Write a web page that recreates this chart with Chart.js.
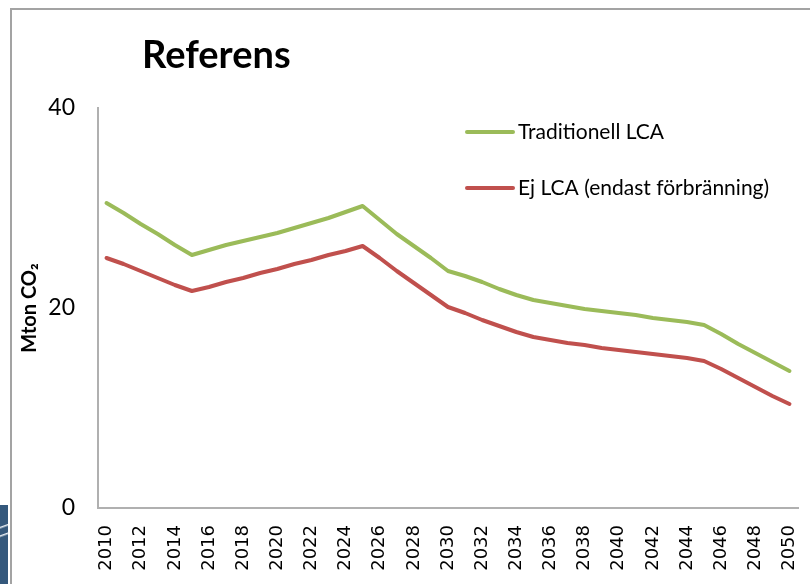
<!DOCTYPE html>
<html lang="sv">
<head>
    <meta charset="UTF-8">
    <title>Referens</title>
    <style>
        html, body { margin: 0; padding: 0; background: #fff; }
        #wrap { position: relative; width: 810px; height: 584px; overflow: hidden; }
        #frame { position: absolute; left: 10px; top: 8px; width: 900px; height: 700px;
                 border-left: 2px solid #a3a3a3; border-top: 2px solid #a3a3a3; }
        #logo { position: absolute; left: 0; top: 505px; width: 8px; height: 79px;
                background: linear-gradient(160deg, #34587c 0, #34587c 20px, #e8eef4 21px, #34587c 23px, #34587c 28px, #e8eef4 29px, #34587c 31px, #34587c 100%); }
        canvas { position: absolute; left: 0; top: 0; }
    </style>
</head>
<body>
    <div id="wrap">
        <div id="frame"></div>
        <div id="logo"></div>
        <canvas id="myChart" width="810" height="584"></canvas>
    </div>

    <script src="https://cdn.jsdelivr.net/npm/chart.js"></script>

    <script>
        // År 2010-2050 (etiketter visas vartannat år)
        const years = [];
        for (let y = 2010; y <= 2050; y++) years.push(String(y));

        // Mton CO2
        const traditionellLCA = [
            30.5, 29.5, 28.4, 27.4, 26.3, 25.3, 25.8, 26.3, 26.7, 27.1,
            27.5, 28.0, 28.5, 29.0, 29.6, 30.2, 28.8, 27.4, 26.2, 25.0,
            23.7, 23.2, 22.6, 21.9, 21.3, 20.8, 20.5, 20.2, 19.9, 19.7,
            19.5, 19.3, 19.0, 18.8, 18.6, 18.3, 17.4, 16.4, 15.5, 14.6,
            13.7
        ];
        const ejLCA = [
            25.0, 24.4, 23.7, 23.0, 22.3, 21.7, 22.1, 22.6, 23.0, 23.5,
            23.9, 24.4, 24.8, 25.3, 25.7, 26.2, 25.0, 23.7, 22.5, 21.3,
            20.1, 19.5, 18.8, 18.2, 17.6, 17.1, 16.8, 16.5, 16.3, 16.0,
            15.8, 15.6, 15.4, 15.2, 15.0, 14.7, 13.9, 13.0, 12.1, 11.2,
            10.4
        ];

        const seriesNames = ['Traditionell LCA', 'Ej LCA (endast förbränning)'];
        const chartTitle = 'Referens';

        // Rubrik och legend ritas direkt på canvas
        const titleAndLegend = {
            id: 'titleAndLegend',
            afterDraw(chart) {
                const c = chart.ctx;
                const area = chart.chartArea;
                c.save();
                c.fillStyle = '#000';
                c.font = 'bold 38px Lato';
                c.textBaseline = 'alphabetic';
                c.textAlign = 'left';
                c.fillText(chartTitle, area.left + 44, 68);

                c.font = '21px Lato';
                c.textBaseline = 'middle';
                chart.data.datasets.forEach((ds, i) => {
                    const y = area.top + 24 + i * 56;
                    const x0 = area.left + 369;
                    c.strokeStyle = ds.borderColor;
                    c.lineWidth = 4;
                    c.lineCap = 'round';
                    c.beginPath();
                    c.moveTo(x0, y);
                    c.lineTo(x0 + 46, y);
                    c.stroke();
                    c.fillText(ds.label, x0 + 51, y);
                });
                c.restore();
            }
        };

        const ctx = document.getElementById('myChart');

        new Chart(ctx, {
            type: 'line',
            data: {
                labels: years,
                datasets: [
                    {
                        label: seriesNames[0],
                        data: traditionellLCA,
                        borderColor: '#9bbb59',
                        borderWidth: 4,
                        pointRadius: 0,
                        borderJoinStyle: 'round',
                        borderCapStyle: 'round',
                        fill: false,
                    },
                    {
                        label: seriesNames[1],
                        data: ejLCA,
                        borderColor: '#c0504d',
                        borderWidth: 4,
                        pointRadius: 0,
                        borderJoinStyle: 'round',
                        borderCapStyle: 'round',
                        fill: false,
                    }
                ]
            },
            options: {
                responsive: false,
                animation: false,
                layout: { padding: { top: 108, right: 12, bottom: 0, left: 0 } },
                plugins: {
                    legend: { display: false },
                    tooltip: { enabled: false }
                },
                scales: {
                    x: {
                        offset: true,
                        grid: { display: false, drawTicks: false },
                        border: { color: '#b0b0b0', width: 2 },
                        ticks: {
                            autoSkip: false,
                            minRotation: 90,
                            maxRotation: 90,
                            padding: 17,
                            color: '#000',
                            font: { family: 'DejaVu Sans', size: 18 },
                            callback: function (val, index) {
                                return index % 2 === 0 ? this.getLabelForValue(val) : '';
                            }
                        },
                        afterFit: (scale) => {
                            scale.height = 76;
                            scale.paddingLeft = 0;
                            scale.paddingRight = 0;
                        }
                    },
                    y: {
                        min: 0,
                        max: 40,
                        grid: { display: false, drawTicks: false },
                        border: { color: '#b0b0b0', width: 2 },
                        ticks: {
                            stepSize: 20,
                            padding: 23,
                            color: '#000',
                            font: { family: 'Lato', size: 23 }
                        },
                        title: {
                            display: true,
                            text: 'Mton CO₂',
                            color: '#000',
                            font: { family: 'Lato', size: 20, weight: 'bold' },
                            padding: { top: 18, bottom: 0 }
                        },
                        afterFit: (scale) => {
                            scale.width = 98;
                            scale.paddingTop = 0;
                            scale.paddingBottom = 0;
                        }
                    }
                }
            },
            plugins: [titleAndLegend]
        });
    </script>
</body>
</html>
